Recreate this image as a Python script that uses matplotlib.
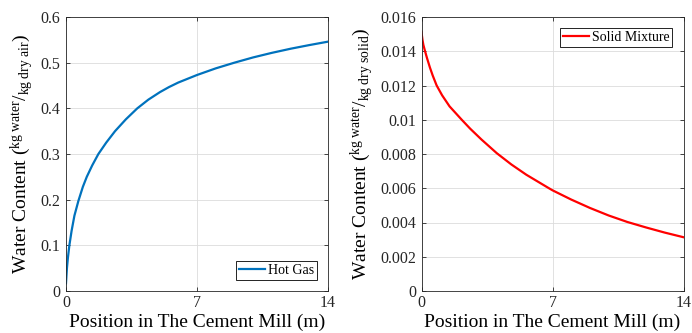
import matplotlib
matplotlib.use("Agg")
import matplotlib.pyplot as plt
from matplotlib.ticker import FormatStrFormatter

plt.rcParams['font.family'] = 'serif'
plt.rcParams['font.serif'] = ['Liberation Serif', 'DejaVu Serif']
plt.rcParams['mathtext.fontset'] = 'custom'
plt.rcParams['mathtext.rm'] = 'Liberation Serif'
plt.rcParams['mathtext.it'] = 'Liberation Serif:italic'
plt.rcParams['mathtext.bf'] = 'Liberation Serif:bold'

# Hot gas water content
gas_x = [0, 0.05, 0.1, 0.18, 0.3, 0.45, 0.66, 0.9, 1.11, 1.4, 1.73, 2.15, 2.62, 3.2,
         3.81, 4.4, 5.02, 5.5, 6.0, 7.0, 8.0, 9.0, 10.0, 11.0, 12.0, 13.0, 14.0]
gas_y = [0.017, 0.05, 0.072, 0.10, 0.132, 0.165, 0.197, 0.228, 0.25, 0.275, 0.30, 0.325,
         0.35, 0.376, 0.40, 0.419, 0.4355, 0.4465, 0.4565, 0.473, 0.4875, 0.500, 0.5115,
         0.5215, 0.5305, 0.5385, 0.546]

# Solid mixture water content
solid_x = [0, 0.05, 0.1, 0.19, 0.3, 0.45, 0.6, 0.81, 1.1, 1.5, 2.15, 2.6, 3.2, 4.02,
           4.8, 5.6, 6.78, 7.0, 8.0, 9.0, 10.0, 11.0, 12.0, 13.0, 14.0]
solid_y = [0.01512, 0.01468, 0.01437, 0.0140, 0.01358, 0.01305, 0.01258, 0.0120,
           0.01143, 0.01078, 0.0100, 0.00948, 0.00885, 0.00805, 0.00739, 0.00679,
           0.00602, 0.00588, 0.00534, 0.00485, 0.00441, 0.00403, 0.00371, 0.00341,
           0.00314]

x_ticks = [0, 7, 14]
gas_yticks = [0, 0.1, 0.2, 0.3, 0.4, 0.5, 0.6]
solid_yticks = [0, 0.002, 0.004, 0.006, 0.008, 0.01, 0.012, 0.014, 0.016]

fig = plt.figure(figsize=(6.92, 3.33), dpi=100)
W, H = 692, 333
ax1 = fig.add_axes([66 / W, 1 - 291 / H, 262 / W, 274 / H])
ax2 = fig.add_axes([421.5 / W, 1 - 291 / H, 262 / W, 274 / H])

axcol = '#262626'

def style(ax, yticks, ylim):
    ax.set_xlim(0, 14)
    ax.set_ylim(*ylim)
    ax.set_xticks(x_ticks)
    ax.set_yticks(yticks)
    ax.yaxis.set_major_formatter(FormatStrFormatter('%g'))
    ax.grid(True, color='#dcdcdc', linewidth=0.6)
    ax.set_axisbelow(True)
    ax.tick_params(direction='in', top=True, right=True, length=3, width=0.6,
                   colors=axcol, labelsize=11.5, labelcolor='#262626')
    ax.tick_params(axis='x', pad=3)
    ax.tick_params(axis='y', pad=4)
    for s in ax.spines.values():
        s.set_color(axcol)
        s.set_linewidth(0.6)
    ax.set_xlabel('Position in The Cement Mill (m)', fontsize=14, labelpad=2)

leg_kw = dict(fancybox=False, edgecolor='black', framealpha=1, handlelength=1.9,
              borderpad=0.2, handletextpad=0.2, borderaxespad=0.8,
              prop={'family': 'Liberation Serif', 'size': 10})

ax1.plot(gas_x, gas_y, color=(0, 0.447, 0.741), linewidth=1.6, label='Hot Gas')
style(ax1, gas_yticks, (0, 0.6))
ax1.set_ylabel(r'Water Content ($^{\mathrm{kg\ water}}/_{\mathrm{kg\ dry\ air}}$)',
               fontsize=14, labelpad=3)
leg1 = ax1.legend(loc='lower right', **leg_kw)
leg1.get_frame().set_linewidth(0.6)

ax2.plot(solid_x, solid_y, color='red', linewidth=1.6, label='Solid Mixture')
style(ax2, solid_yticks, (0, 0.016))
ax2.set_ylabel(r'Water Content ($^{\mathrm{kg\ water}}/_{\mathrm{kg\ dry\ solid}}$)',
               fontsize=14, labelpad=3)
leg2 = ax2.legend(loc='upper right', **leg_kw)
leg2.get_frame().set_linewidth(0.6)

fig.savefig('out.png', dpi=100)
